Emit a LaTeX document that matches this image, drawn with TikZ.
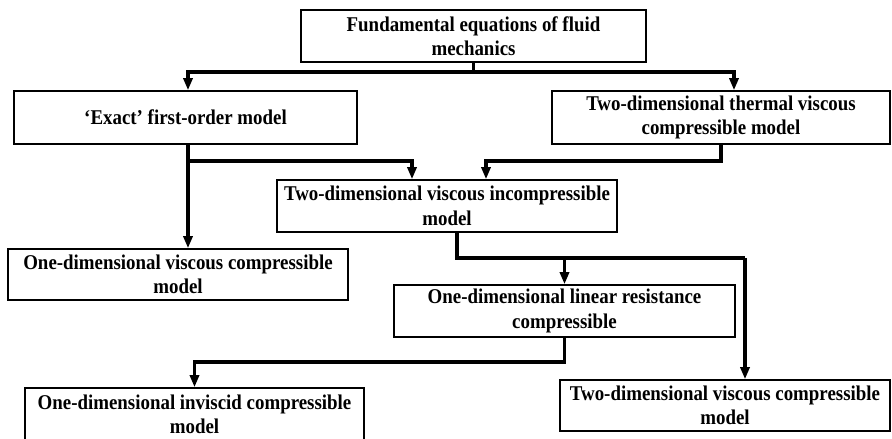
\documentclass[tikz,border=0pt]{standalone}
\usepackage{fontspec}
\setmainfont{Liberation Serif}[FakeStretch=0.9]
\usetikzlibrary{arrows.meta}
\tikzset{
  model/.style={draw, line width=1.6pt, align=center, inner sep=0pt,
    font=\bfseries\fontsize{21}{24.5}\selectfont},
  link/.style={line width=3.2pt},
  flow/.style={link, -{Triangle[length=12pt,width=9pt]}}
}
\begin{document}
\begin{tikzpicture}[x=1pt,y=-1pt]
  \useasboundingbox (0,0) rectangle (892,439);
  % boxes
  \node[model, minimum width=345pt, minimum height=52pt] (fund) at (473.5,36)
    {Fundamental equations of fluid\\mechanics};
  \node[model, minimum width=343pt, minimum height=53pt] (exact) at (185.5,117.5)
    {`Exact' first-order model};
  \node[model, minimum width=338pt, minimum height=53pt] (thermal) at (721,117.5)
    {Two-dimensional thermal viscous\\compressible model};
  \node[model, minimum width=340pt, minimum height=52pt] (incomp) at (447,206)
    {Two-dimensional viscous incompressible\\model};
  \node[model, minimum width=340pt, minimum height=51pt] (onevisc) at (178,274.5)
    {One-dimensional viscous compressible\\model};
  \node[model, minimum width=341pt, minimum height=52pt] (linres) at (564.5,311)
    {One-dimensional linear resistance\\compressible};
  \node[model, minimum width=339pt, minimum height=53pt] (inviscid) at (194.5,414.5)
    {One-dimensional inviscid compressible\\model};
  \node[model, minimum width=330pt, minimum height=51pt] (twovisc) at (725,405.5)
    {Two-dimensional viscous compressible\\model};
  % junction levels
  \coordinate (j1) at (0,72);
  \coordinate (j2) at (0,161);
  \coordinate (j3) at (0,258);
  \coordinate (j4) at (0,362);
  % connectors
  \draw[link] (fund.south) -- (fund.south |- j1);
  \draw[flow] (fund.south |- j1) -| ([xshift=2.5pt]exact.north);
  \draw[flow] (fund.south |- j1) -| ([xshift=13pt]thermal.north);
  \draw[flow] ([xshift=2.5pt]exact.south) -- ([xshift=10pt]onevisc.north);
  \draw[flow] ([xshift=2.5pt]exact.south |- j2) -| ([xshift=-35pt]incomp.north);
  \draw[flow] (thermal.south) |- ([xshift=39pt]incomp.north |- j2) -- ([xshift=39pt]incomp.north);
  \draw[link] ([xshift=10pt]incomp.south) |- ([xshift=20pt]twovisc.north |- j3);
  \draw[flow] ([xshift=20pt]twovisc.north |- j3) -- ([xshift=20pt]twovisc.north);
  \draw[flow] (linres.north |- j3) -- (linres.north);
  \draw[flow] (linres.south) |- (inviscid.north |- j4) -- (inviscid.north);
\end{tikzpicture}
\end{document}
